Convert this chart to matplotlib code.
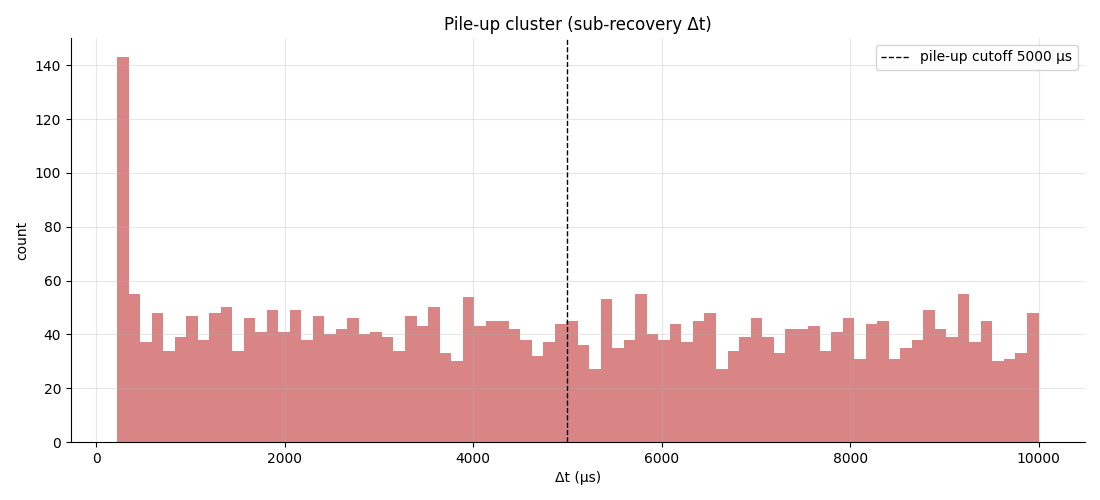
import numpy as np
import matplotlib
matplotlib.use("Agg")
import matplotlib.pyplot as plt

# histogram of sub-recovery dt, 80 bins from ~220 to 10000 us
bin_start = 220
bin_stop = 10000
counts = [
    143, 55, 37, 48, 34, 39, 47, 38, 48, 50,
    34, 46, 41, 49, 41, 49, 38, 47, 40, 42,
    46, 40, 41, 39, 34, 47, 43, 50, 33, 30,
    54, 43, 45, 45, 42, 38, 32, 37, 44, 45,
    36, 27, 53, 35, 38, 55, 40, 38, 44, 37,
    45, 48, 27, 34, 39, 46, 39, 33, 42, 42,
    43, 34, 41, 46, 31, 44, 45, 31, 35, 38,
    49, 42, 39, 55, 37, 45, 30, 31, 33, 48,
]
cutoff = 5000

edges = np.linspace(bin_start, bin_stop, len(counts) + 1)
centers = (edges[:-1] + edges[1:]) / 2

fig, ax = plt.subplots(figsize=(11, 5), dpi=100)
fig.subplots_adjust(left=0.0645, right=0.986, top=0.924, bottom=0.116)

ax.hist(centers, bins=edges, weights=counts, color="indianred", alpha=0.75)
ax.axvline(cutoff, color="black", linestyle="--", linewidth=1,
           label=f"pile-up cutoff {cutoff} µs")

ax.set_title("Pile-up cluster (sub-recovery Δt)")
ax.set_xlabel("Δt (µs)")
ax.set_ylabel("count")
ax.grid(alpha=0.3)
ax.spines["top"].set_visible(False)
ax.spines["right"].set_visible(False)
ax.legend(loc="upper right")

fig.savefig("out.png", dpi=100)
